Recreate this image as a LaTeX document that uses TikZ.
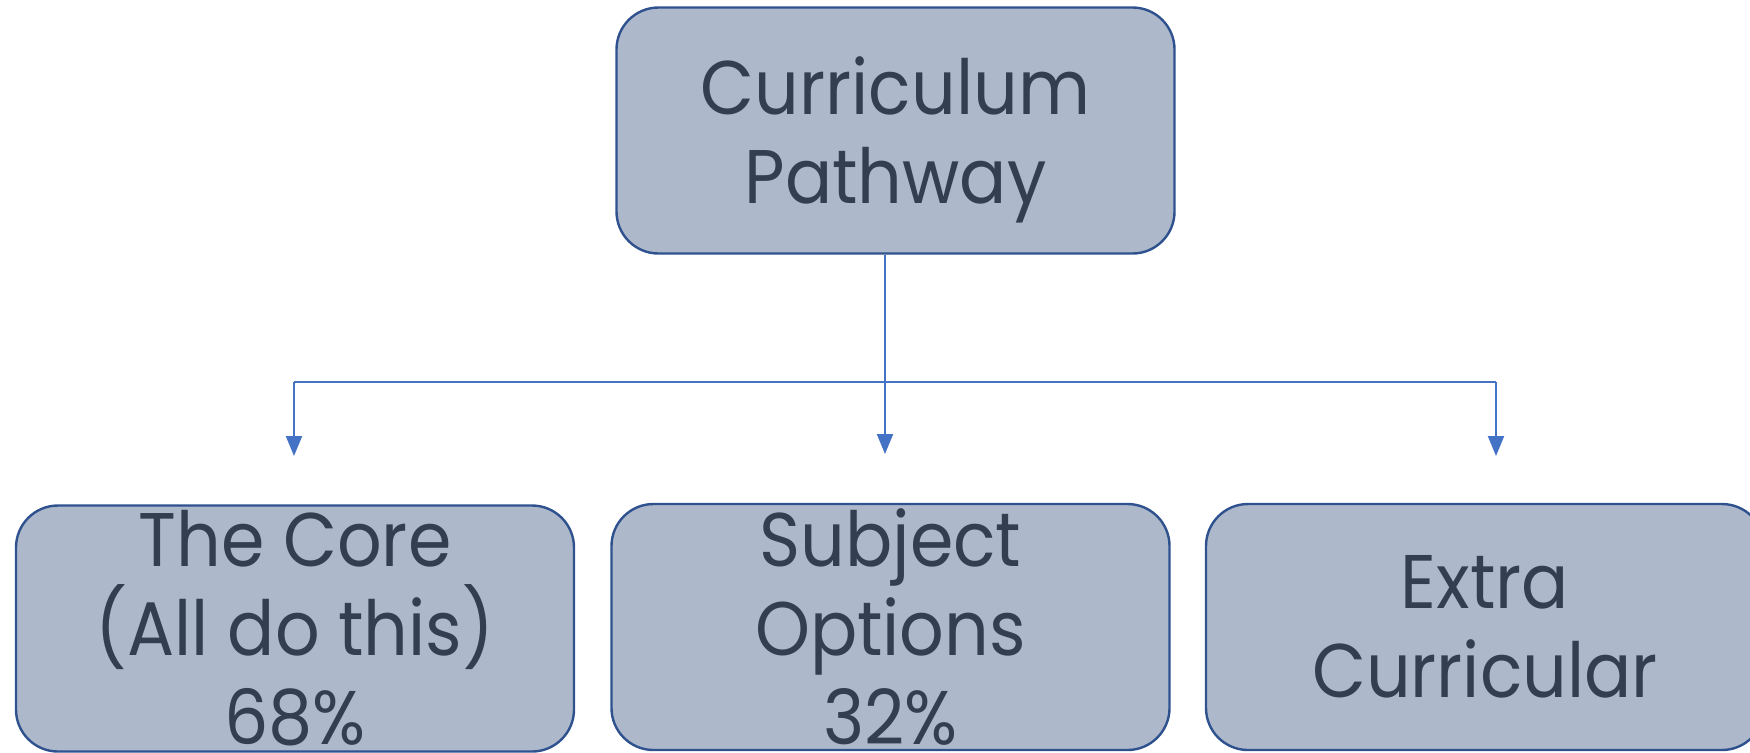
\documentclass[tikz,border=0pt]{standalone}
\usepackage{fontspec}
\setmainfont{Poppins}[FakeStretch=0.92]
\usepackage{xcolor}
\usetikzlibrary{arrows.meta,positioning}
\definecolor{boxfill}{HTML}{ADB9CA}
\definecolor{boxline}{HTML}{2F528F}
\definecolor{boxtext}{HTML}{333F50}
\definecolor{linkblue}{HTML}{4472C4}
\tikzset{
  pathbox/.style={draw=boxline,fill=boxfill,line width=1.2pt,rounded corners=21pt,
    minimum width=279pt,minimum height=123pt,inner sep=0pt,align=center,
    text=boxtext,font=\fontsize{38pt}{44.5pt}\selectfont},
  flowline/.style={draw=linkblue,line width=1pt},
  flowtip/.style={flowline,-{Triangle[length=10pt,width=8pt]}}
}
\begin{document}
\begin{tikzpicture}[x=0.5pt,y=-0.5pt]
      \useasboundingbox (0,0) rectangle (1750,752);
      \clip (0,0) rectangle (1750,752);

      \node[pathbox] (top) at (895.5,130.5) {Curriculum\\\raisebox{0pt}[\height][0pt]{Pathway}};
      \node[pathbox] (core) at (295,628.5) {The Core\\(All do this)\\68\%};
      \node[pathbox] (options) at (890.5,627) {Subject\\Options\\32\%};
      \node[pathbox] (extra) at (1485,627) {Extra\\Curricular};

      \coordinate (hubL) at (294,382);
      \coordinate (hubR) at (1496,382);
      \coordinate (tipL) at (294,456);
      \coordinate (tipM) at (885,454);
      \coordinate (tipR) at (1496,456);

      \draw[flowline] (hubL) -- (hubR);
      \draw[flowtip] (hubL) -- (tipL);
      \draw[flowtip] (hubR) -- (tipR);
      \draw[flowtip] (tipM |- top.south) -- (tipM);
\end{tikzpicture}
\end{document}
